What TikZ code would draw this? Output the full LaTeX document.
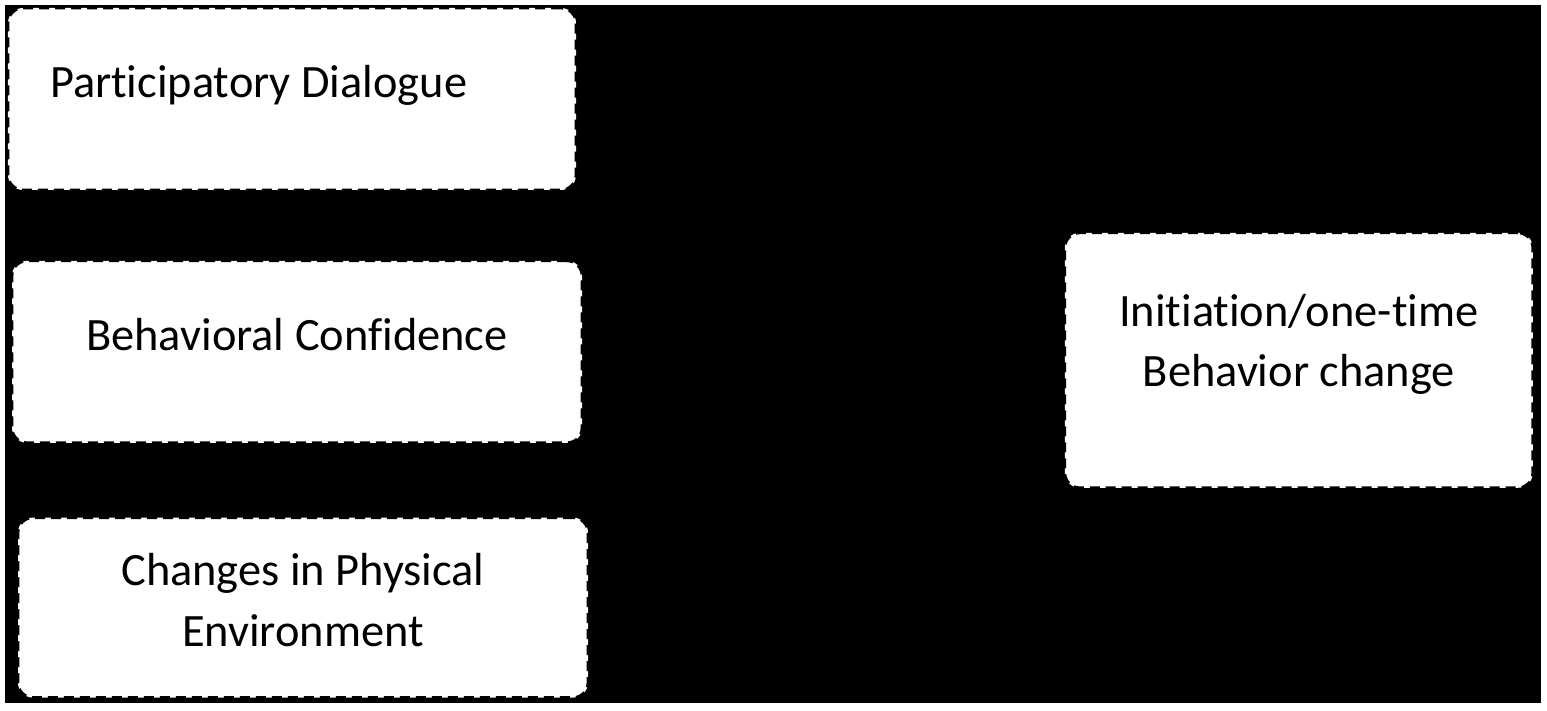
\documentclass[tikz,border=0pt]{standalone}
\usepackage{fontspec}
\setmainfont[Ligatures=NoCommon]{Carlito}
\usepackage{xcolor}
\usepackage{tikz}
\usetikzlibrary{positioning}

\begin{document}
\begin{tikzpicture}[
			box/.style={rectangle, rounded corners=0.3cm, fill=white, draw=black, line width=1.6pt, dash pattern=on 0.2cm off 0.12cm, font=\fontsize{26.4}{34.5}\selectfont, align=center},
			leftbox/.style={box, minimum width=11.4cm, minimum height=3.64cm}
		]

		% frame
		\useasboundingbox[fill=white] (0,0) rectangle (30.94,14.2);
		\fill[black] (0.1,0.14) rectangle (30.82,14.1);

		\node (dialogue) [leftbox, minimum width=11.36cm, text width=9.68cm, inner xsep=0pt, align=flush left, text depth=0.7cm] at (5.84,12.22) {Participatory Dialogue};

		\node (confidence) [leftbox, below=1.36cm of dialogue, xshift=0.1cm, text depth=0.7cm] {Behavioral Confidence};

		\node (environment) [leftbox, minimum height=3.6cm, below=1.44cm of confidence, xshift=0.12cm, text depth=0.3cm] {Changes in Physical\\Environment};

		\node (initiation) [box, minimum width=9.36cm, minimum height=5.1cm, right=9.6cm of confidence, yshift=-0.17cm, text depth=0.8cm] {Initiation/one-time\\Behavior change};

	\end{tikzpicture}
\end{document}
